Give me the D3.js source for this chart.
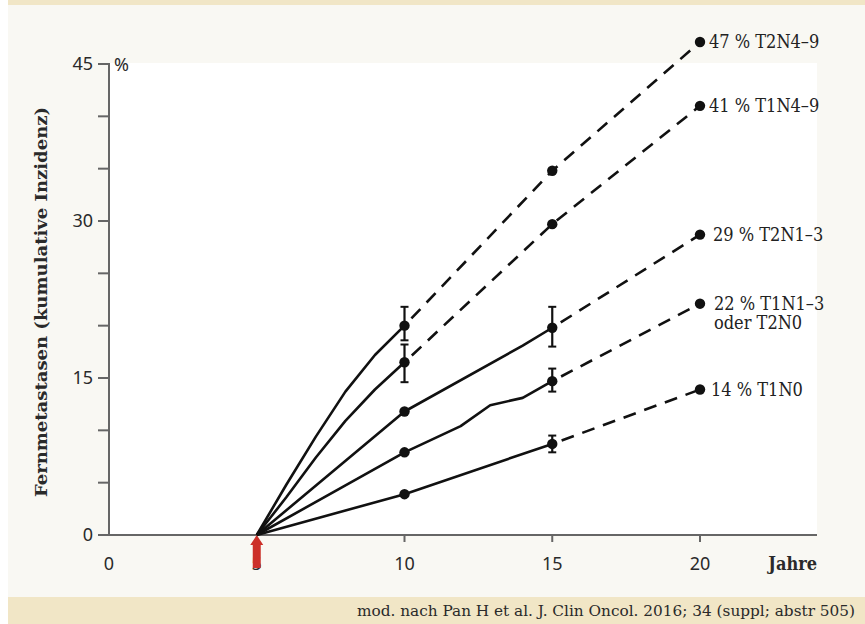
<!DOCTYPE html>
<html>
<head>
<meta charset="utf-8">
<script src="https://cdn.jsdelivr.net/npm/d3@7"></script>
<style>
  body { margin: 0; background: #fff; }
  .slab { font-family: "DejaVu Serif", serif; font-stretch: condensed; }
  .sans { font-family: "Noto Sans", "Open Sans", sans-serif; }
</style>
</head>
<body>
<svg id="chart" width="865" height="624"></svg>
<script>
// ---- data
var serieNames = ["T2N4-9", "T1N4-9", "T2N1-3", "T1N1-3", "T1N0"];
var labelLines = [["47 % T2N4\u20139"], ["41 % T1N4\u20139"], ["29 % T2N1\u20133"], ["22 % T1N1\u20133", "oder T2N0"], ["14 % T1N0"]];
// solid part (year, %)
var solidT2N49 = [[5, 0], [6, 4.8], [7, 9.4], [8, 13.7], [9, 17.2], [10, 20.0]];
var solidT1N49 = [[5, 0], [6, 3.6], [7, 7.4], [8, 10.9], [9, 13.9], [10, 16.5]];
var solidT2N13 = [[5, 0], [10, 11.8], [14, 18.1], [15, 19.8]];
var solidT1N13 = [[5, 0], [10, 7.9], [11.9, 10.4], [12.9, 12.4], [14, 13.1], [15, 14.7]];
var solidT1N0 = [[5, 0], [10, 3.9], [15, 8.7]];
// dashed projection
var dashT2N49 = [[10, 20.0], [15, 34.8], [20, 47.1]];
var dashT1N49 = [[10, 16.5], [15, 29.7], [20, 41.0]];
var dashT2N13 = [[15, 19.8], [20, 28.7]];
var dashT1N13 = [[15, 14.7], [20, 22.1]];
var dashT1N0 = [[15, 8.7], [20, 13.9]];
// marked points
var dotsT2N49 = [[10, 20.0], [15, 34.8], [20, 47.1]];
var dotsT1N49 = [[10, 16.5], [15, 29.7], [20, 41.0]];
var dotsT2N13 = [[10, 11.8], [15, 19.8], [20, 28.7]];
var dotsT1N13 = [[10, 7.9], [15, 14.7], [20, 22.1]];
var dotsT1N0 = [[10, 3.9], [15, 8.7], [20, 13.9]];
// error bars (year, low, high)
var errBars = [[10, 18.6, 21.8], [10, 14.6, 18.2], [15, 18.0, 21.8], [15, 13.7, 15.9], [15, 7.9, 9.5]];
var xTicks = [0, 5, 10, 15, 20];
var yTicks = [0, 15, 30, 45];
var yMinor = [5, 10, 20, 25, 35, 40];
var citation = "mod. nach Pan H et al. J. Clin Oncol. 2016; 34 (suppl; abstr 505)";

var solids = [solidT2N49, solidT1N49, solidT2N13, solidT1N13, solidT1N0];
var dashes = [dashT2N49, dashT1N49, dashT2N13, dashT1N13, dashT1N0];
var dots = [dotsT2N49, dotsT1N49, dotsT2N13, dotsT1N13, dotsT1N0];

// ---- geometry
var svg = d3.select("#chart");
var x = d3.scaleLinear().domain([0, 20]).range([109, 700]);
var y = d3.scaleLinear().domain([0, 45]).range([535, 64]);

// backgrounds
svg.append("rect").attr("x", 8).attr("y", 0).attr("width", 857).attr("height", 624).attr("fill", "#f9f8f3");
svg.append("rect").attr("x", 8).attr("y", 0).attr("width", 857).attr("height", 5).attr("fill", "#f1e6c6");
svg.append("rect").attr("x", 8).attr("y", 597).attr("width", 857).attr("height", 27).attr("fill", "#f1e6c6");
svg.append("rect").attr("x", 109).attr("y", 63).attr("width", 708).attr("height", 472).attr("fill", "#ffffff");

// axes
var gx = svg.append("g").attr("transform", "translate(0,535)");
gx.append("line").attr("x1", 109).attr("x2", 817).attr("stroke", "#666").attr("stroke-width", 2);
xTicks.forEach(function(t){
	if(t > 5){
		gx.append("line").attr("x1", x(t)).attr("x2", x(t)).attr("y1", 0).attr("y2", 7)
			.attr("stroke", "#666").attr("stroke-width", 2);
	}
	gx.append("text").attr("class", "sans").attr("x", x(t)).attr("y", 35)
		.attr("text-anchor", "middle").attr("font-size", 18).attr("fill", "#2a2a2a").text(t);
});
gx.append("text").attr("class", "slab").attr("x", 817).attr("y", 35).attr("text-anchor", "end")
	.attr("font-size", 18).attr("font-weight", "bold").attr("fill", "#2a2a2a").text("Jahre");

// red arrow at year 5, drawn over the tick label
var ax = x(5);
svg.append("path")
	.attr("d", "M" + ax + ",535 L" + (ax + 6.5) + ",545 L" + (ax + 4) + ",545 L" + (ax + 4) + ",568 L" + (ax - 4) + ",568 L" + (ax - 4) + ",545 L" + (ax - 6.5) + ",545 Z")
	.attr("fill", "#cc3029");

var gy = svg.append("g").attr("transform", "translate(109,0)");
gy.append("line").attr("y1", 535).attr("y2", 63).attr("stroke", "#666").attr("stroke-width", 2);
yTicks.concat(yMinor).forEach(function(t){
	gy.append("line").attr("x1", -11).attr("x2", 0).attr("y1", y(t)).attr("y2", y(t))
		.attr("stroke", "#666").attr("stroke-width", 2);
});
yTicks.forEach(function(t){
	gy.append("text").attr("class", "sans").attr("x", -16).attr("y", y(t) + 6)
		.attr("text-anchor", "end").attr("font-size", 18).attr("fill", "#2a2a2a").text(t);
});
gy.append("text").attr("class", "sans").attr("x", 5).attr("y", 71)
	.attr("font-size", 18).attr("fill", "#2a2a2a").text("%");

svg.append("text").attr("class", "slab")
	.attr("transform", "translate(47,302) rotate(-90)")
	.attr("text-anchor", "middle").attr("font-size", 16).attr("font-weight", "bold").attr("fill", "#2a2a2a")
	.attr("textLength", 390).attr("lengthAdjust", "spacingAndGlyphs")
	.text("Fernmetastasen (kumulative Inzidenz)");

// lines
var line = d3.line().x(function(d){ return x(d[0]); }).y(function(d){ return y(d[1]); });
var gl = svg.append("g");
solids.forEach(function(s){
	gl.append("path").attr("d", line(s)).attr("fill", "none").attr("stroke", "#111")
		.attr("stroke-width", 2.6).attr("stroke-linejoin", "round");
});
dashes.forEach(function(s){
	gl.append("path").attr("d", line(s)).attr("fill", "none").attr("stroke", "#111")
		.attr("stroke-width", 2.6).attr("stroke-dasharray", "13,9").attr("stroke-dashoffset", -10);
});

// error bars
errBars.forEach(function(e){
	gl.append("line").attr("x1", x(e[0])).attr("x2", x(e[0])).attr("y1", y(e[1])).attr("y2", y(e[2]))
		.attr("stroke", "#111").attr("stroke-width", 2.2);
	[e[1], e[2]].forEach(function(v){
		gl.append("line").attr("x1", x(e[0]) - 4).attr("x2", x(e[0]) + 4).attr("y1", y(v)).attr("y2", y(v))
			.attr("stroke", "#111").attr("stroke-width", 2);
	});
});

// points
dots.forEach(function(s){
	gl.selectAll(null).data(s).enter().append("circle")
		.attr("cx", function(d){ return x(d[0]); })
		.attr("cy", function(d){ return y(d[1]); })
		.attr("r", 5.2).attr("fill", "#111");
});

// end labels
var labelDx = [9, 9, 13, 14, 11];
dots.forEach(function(s, i){
	var last = s[s.length - 1];
	var t = svg.append("text").attr("class", "slab").attr("font-size", 18).attr("fill", "#222")
		.attr("x", x(last[0]) + labelDx[i]).attr("y", y(last[1]) + 6);
	labelLines[i].forEach(function(l, k){
		t.append("tspan").attr("x", x(last[0]) + labelDx[i]).attr("dy", k == 0 ? 0 : 19).text(l);
	});
});

// source
svg.append("text").attr("class", "slab").attr("x", 855).attr("y", 616).attr("text-anchor", "end")
	.attr("font-size", 15).attr("fill", "#2a2a2a")
	.attr("textLength", 498).attr("lengthAdjust", "spacingAndGlyphs")
	.text(citation);
</script>
</body>
</html>
